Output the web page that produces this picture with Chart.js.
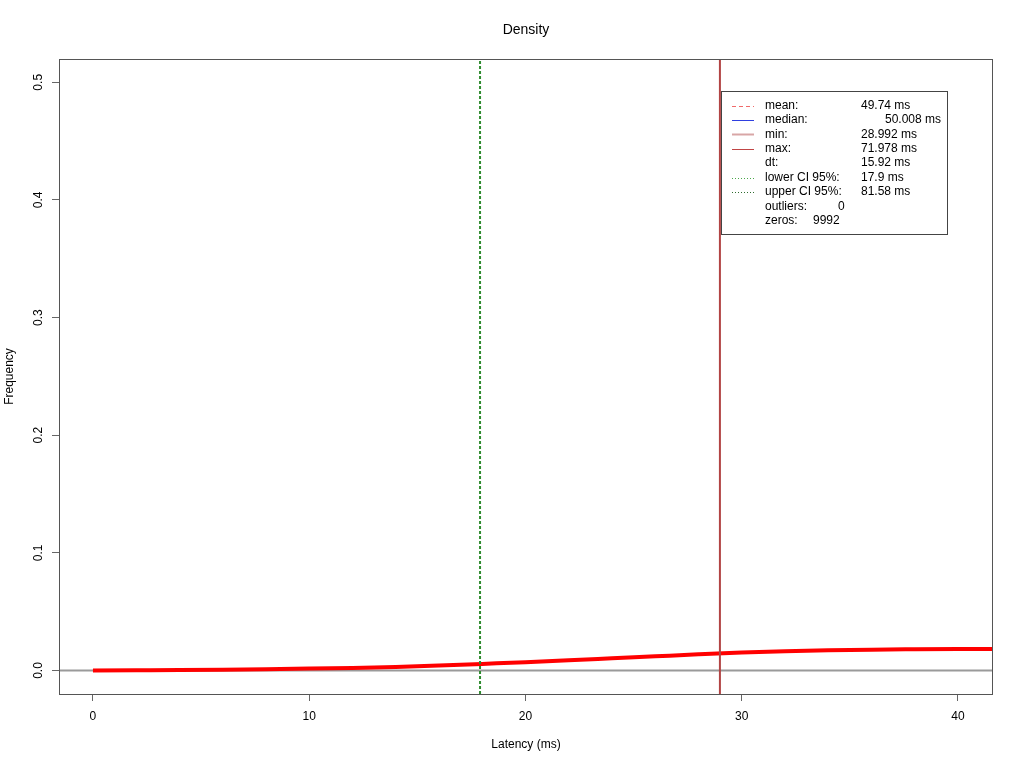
<!DOCTYPE html>
<html>
<head>
<meta charset="utf-8">
<script src="https://cdn.jsdelivr.net/npm/chart.js@4/dist/chart.umd.min.js"></script>
<style>
  html, body { margin: 0; padding: 0; background: #fff; }
  #wrap { width: 1024px; height: 768px; position: relative; }
</style>
</head>
<body>
<div id="wrap"><canvas id="densityChart"></canvas></div>
<script>
// data
const xTicks = [0, 10, 20, 30, 40];
const yTicks = [0, 0.1, 0.2, 0.3, 0.4, 0.5];
const latency = [0, 2, 4, 6, 8, 10, 12, 14, 16, 18, 20, 22, 24, 26, 28, 30, 32, 34, 36, 38, 40, 42];
const density = [0.0000, 0.0002, 0.0004, 0.0007, 0.0011, 0.0016, 0.0022, 0.0030, 0.0042, 0.0056, 0.0070,
                 0.0086, 0.0103, 0.0120, 0.0137, 0.0152, 0.0163, 0.0171, 0.0177, 0.0180, 0.0182, 0.0183];
const minLatency = 28.992;
const lowerCI = 17.9;
const legendLabels = ["mean:", "median:", "min:", "max:", "dt:", "lower CI 95%:", "upper CI 95%:", "outliers:", "zeros:"];
const legendValues = ["49.74 ms", "50.008 ms", "28.992 ms", "71.978 ms", "15.92 ms", "17.9 ms", "81.58 ms", "0", "9992"];

const FONT = '"Liberation Sans", Arial, Helvetica, sans-serif';
const xRange = [-1.57, 41.62];
const yRange = [-0.0200, 0.5198];

const curve = latency.map((x, i) => ({ x, y: density[i] }));

// legend swatches (null = no line)
const swatches = [
  { color: "#f06a6a", dash: [4, 3], width: 1 },
  { color: "#2f3fe0", dash: [], width: 1 },
  { color: "#d8a6a6", dash: [], width: 2 },
  { color: "#c04545", dash: [], width: 1 },
  null,
  { color: "#4aa84a", dash: [1, 2], width: 1 },
  { color: "#2f6b2f", dash: [1, 2], width: 1 },
  null, null
];
const valueX = [861, 885, 861, 861, 861, 861, 861, 838, 813];

const rDecor = {
  id: "rDecor",
  afterDraw(chart) {
    const c = chart.ctx, a = chart.chartArea;
    const ys = chart.scales.y;
    c.save();
    // frame
    c.strokeStyle = "#555";
    c.lineWidth = 1;
    c.strokeRect(a.left + 0.5, a.top + 0.5, a.right - a.left - 1, a.bottom - a.top);

    c.fillStyle = "#000";
    c.textAlign = "center";
    c.textBaseline = "middle";
    c.font = "14px " + FONT;
    c.fillText("Density", (a.left + a.right) / 2, 30);
    c.font = "12px " + FONT;
    c.fillText("Latency (ms)", (a.left + a.right) / 2, 745);

    // y tick labels, rotated like R
    yTicks.forEach(v => {
      c.save();
      c.translate(39, ys.getPixelForValue(v));
      c.rotate(-Math.PI / 2);
      c.fillText(v.toFixed(1), 0, 0);
      c.restore();
    });
    c.save();
    c.translate(10, (a.top + a.bottom) / 2);
    c.rotate(-Math.PI / 2);
    c.fillText("Frequency", 0, 0);
    c.restore();

    // legend box
    const bx = 721, by = 91, bw = 226, bh = 143;
    c.fillStyle = "#fff";
    c.fillRect(bx, by, bw, bh);
    c.strokeStyle = "#444";
    c.strokeRect(bx + 0.5, by + 0.5, bw, bh);
    c.textAlign = "left";
    legendLabels.forEach((lab, i) => {
      const y = 105.5 + i * 14.4;
      const s = swatches[i];
      if (s) {
        c.save();
        c.strokeStyle = s.color;
        c.lineWidth = s.width;
        c.setLineDash(s.dash);
        c.beginPath();
        c.moveTo(732, Math.round(y) + 0.5);
        c.lineTo(754, Math.round(y) + 0.5);
        c.stroke();
        c.restore();
      }
      c.fillStyle = "#000";
      c.fillText(lab, 765, y);
      c.fillText(legendValues[i], valueX[i], y);
    });
    c.restore();
  }
};

new Chart(document.getElementById("densityChart"), {
  type: "line",
  data: {
    datasets: [
      { label: "lower CI", data: [{ x: lowerCI, y: yRange[0] }, { x: lowerCI, y: yRange[1] }],
        borderColor: "#2e8b2e", borderWidth: 2, borderDash: [3, 2], pointRadius: 0, order: 1 },
      { label: "min", data: [{ x: minLatency, y: yRange[0] }, { x: minLatency, y: yRange[1] }],
        borderColor: "#b24444", borderWidth: 2, pointRadius: 0, order: 2 },
      { label: "density", data: curve, borderColor: "#ff0000", borderWidth: 4, pointRadius: 0,
        cubicInterpolationMode: "monotone", order: 3 },
      { label: "zero", data: [{ x: xRange[0], y: 0 }, { x: xRange[1], y: 0 }],
        borderColor: "#9a9a9a", borderWidth: 2, pointRadius: 0, order: 4 }
    ]
  },
  options: {
    responsive: true,
    maintainAspectRatio: false,
    animation: false,
    layout: { padding: { left: 0, top: 59, right: 31, bottom: 0 } },
    plugins: { legend: { display: false }, tooltip: { enabled: false }, title: { display: false } },
    scales: {
      x: {
        type: "linear", min: xRange[0], max: xRange[1],
        afterBuildTicks: s => { s.ticks = xTicks.map(v => ({ value: v })); },
        afterFit: s => { s.height = 74; },
        grid: { drawOnChartArea: false, drawTicks: true, tickLength: 7, color: "#666" },
        border: { display: false },
        ticks: { color: "#000", font: { size: 12, family: FONT }, padding: 8, maxRotation: 0, autoSkip: false,
                 callback: v => String(v) }
      },
      y: {
        type: "linear", min: yRange[0], max: yRange[1],
        afterBuildTicks: s => { s.ticks = yTicks.map(v => ({ value: v })); },
        afterFit: s => { s.width = 59; },
        grid: { drawOnChartArea: false, drawTicks: true, tickLength: 7, color: "#666" },
        border: { display: false },
        ticks: { display: false }
      }
    }
  },
  plugins: [rDecor]
});
</script>
</body>
</html>
